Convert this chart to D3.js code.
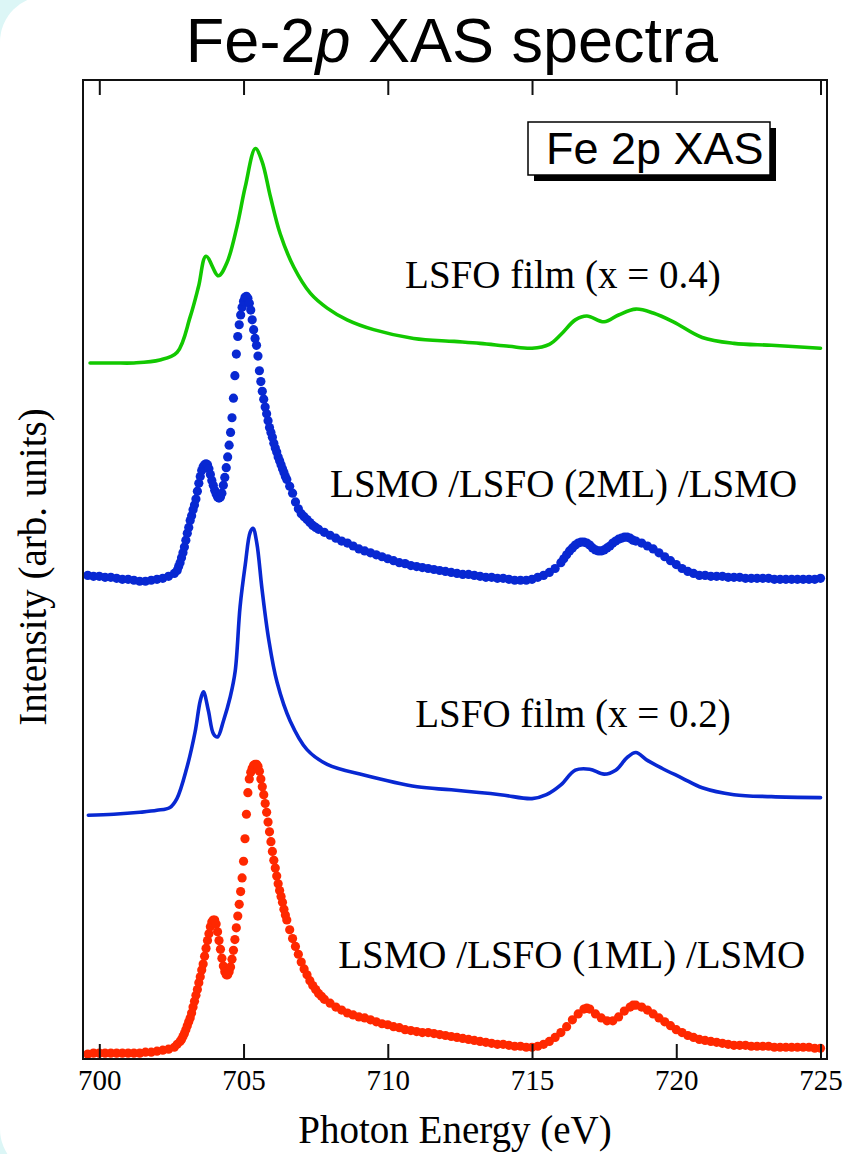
<!DOCTYPE html>
<html>
<head>
<meta charset="utf-8">
<script src="https://cdn.jsdelivr.net/npm/d3@7"></script>
<style>
  html, body { margin: 0; padding: 0; background: #ffffff; }
  svg { display: block; }
</style>
</head>
<body>
<script>
// Fe 2p X-ray absorption spectra, vertically offset for comparison.
// Each series: [photon energy (eV), intensity (arb. units, with offset)]

const xTicks = [700, 705, 710, 715, 720, 725];

const lsfo04 = [
  [699.68, 7.11], [700.5, 7.11], [701.2, 7.11], [702.1, 7.14], [702.7, 7.22], [703.15, 7.58],
  [703.44, 7.89], [703.7, 8.20], [704.13, 8.00], [704.42, 8.13], [704.77, 8.50], [705.06, 8.91],
  [705.41, 9.30], [705.64, 9.17], [705.93, 8.81], [706.27, 8.43], [706.74, 8.09], [707.32, 7.82],
  [707.9, 7.67], [708.59, 7.55], [709.51, 7.45], [710.9, 7.36], [712.3, 7.33], [713.2, 7.31],
  [714.2, 7.28], [715.0, 7.26], [715.6, 7.30], [716.0, 7.40], [716.5, 7.55], [716.9, 7.59],
  [717.5, 7.53], [718.0, 7.60], [718.6, 7.66], [719.2, 7.62], [719.9, 7.53], [720.9, 7.37],
  [722.0, 7.31], [723.3, 7.29], [725.0, 7.26]
];

const lsfo02 = [
  [699.62, 2.49], [700.5, 2.50], [701.41, 2.52], [702.0, 2.54], [702.45, 2.57], [702.69, 2.66],
  [703.03, 2.97], [703.32, 3.34], [703.5, 3.66], [703.61, 3.75], [703.78, 3.56], [703.96, 3.32],
  [704.1, 3.29], [704.3, 3.45], [704.54, 3.70], [704.71, 3.96], [704.88, 4.62], [705.06, 5.05],
  [705.23, 5.38], [705.33, 5.42], [705.46, 5.27], [705.64, 4.80], [705.87, 4.29], [706.16, 3.85],
  [706.62, 3.45], [707.2, 3.16], [707.9, 3.01], [709.17, 2.90], [711.02, 2.78], [712.2, 2.75],
  [713.9, 2.70], [715.0, 2.66], [715.5, 2.70], [716.0, 2.80], [716.5, 2.95], [717.0, 2.96],
  [717.5, 2.91], [717.9, 2.95], [718.3, 3.08], [718.6, 3.13], [719.0, 3.05], [719.5, 2.97],
  [720.2, 2.87], [720.9, 2.77], [722.0, 2.70], [723.3, 2.68], [725.0, 2.67]
];

const bilayer2ML = [
  [699.6, 4.94], [699.8, 4.93], [700.0, 4.93], [700.2, 4.92], [700.4, 4.92], [700.6, 4.91],
  [700.8, 4.90], [701.0, 4.90], [701.2, 4.89], [701.4, 4.88], [701.6, 4.88], [701.8, 4.89],
  [702.0, 4.90], [702.2, 4.91], [702.4, 4.93], [702.6, 4.96], [702.7, 4.99], [702.75, 5.03],
  [702.8, 5.07], [702.85, 5.12], [702.9, 5.17], [702.95, 5.23], [703.0, 5.30], [703.05, 5.37],
  [703.1, 5.43], [703.15, 5.50], [703.2, 5.55], [703.25, 5.61], [703.3, 5.66], [703.35, 5.72],
  [703.4, 5.80], [703.45, 5.88], [703.5, 5.95], [703.55, 6.01], [703.6, 6.05], [703.65, 6.07],
  [703.7, 6.08], [703.75, 6.07], [703.8, 6.03], [703.85, 5.97], [703.9, 5.91], [703.95, 5.86],
  [704.0, 5.81], [704.05, 5.77], [704.1, 5.74], [704.15, 5.73], [704.2, 5.74], [704.25, 5.78],
  [704.3, 5.86], [704.35, 5.94], [704.4, 6.04], [704.45, 6.15], [704.5, 6.27], [704.55, 6.40],
  [704.6, 6.55], [704.65, 6.75], [704.7, 6.98], [704.75, 7.20], [704.8, 7.38], [704.85, 7.50],
  [704.9, 7.60], [704.95, 7.68], [705.0, 7.74], [705.05, 7.78], [705.1, 7.79], [705.15, 7.77],
  [705.2, 7.72], [705.25, 7.65], [705.3, 7.55], [705.35, 7.45], [705.4, 7.36], [705.45, 7.29],
  [705.5, 7.18], [705.55, 7.03], [705.6, 6.92], [705.65, 6.82], [705.7, 6.74], [705.75, 6.66],
  [705.8, 6.59], [705.85, 6.52], [705.9, 6.45], [705.95, 6.40], [706.0, 6.35], [706.05, 6.29],
  [706.1, 6.24], [706.15, 6.20], [706.2, 6.15], [706.25, 6.11], [706.3, 6.07], [706.35, 6.03],
  [706.4, 5.99], [706.45, 5.95], [706.5, 5.92], [706.6, 5.85], [706.7, 5.78], [706.8, 5.69],
  [706.9, 5.62], [707.0, 5.57], [707.1, 5.54], [707.2, 5.51], [707.3, 5.48], [707.4, 5.45],
  [707.5, 5.43], [707.6, 5.41], [707.8, 5.38], [708.0, 5.35], [708.2, 5.32], [708.4, 5.29],
  [708.6, 5.27], [708.8, 5.24], [709.0, 5.21], [709.2, 5.19], [709.4, 5.17], [709.6, 5.15],
  [709.8, 5.13], [710.0, 5.11], [710.2, 5.09], [710.4, 5.07], [710.6, 5.06], [710.8, 5.04],
  [711.0, 5.03], [711.2, 5.02], [711.4, 5.01], [711.6, 5.00], [711.8, 4.99], [712.0, 4.98],
  [712.2, 4.97], [712.4, 4.96], [712.6, 4.95], [712.8, 4.95], [713.0, 4.94], [713.2, 4.93],
  [713.4, 4.92], [713.6, 4.92], [713.8, 4.91], [714.0, 4.91], [714.2, 4.90], [714.4, 4.89],
  [714.6, 4.89], [714.8, 4.89], [715.0, 4.90], [715.2, 4.92], [715.4, 4.94], [715.6, 4.97],
  [715.8, 5.01], [716.0, 5.07], [716.1, 5.11], [716.2, 5.15], [716.3, 5.19], [716.4, 5.22],
  [716.5, 5.25], [716.6, 5.27], [716.7, 5.28], [716.8, 5.28], [716.9, 5.27], [717.0, 5.25],
  [717.1, 5.22], [717.2, 5.20], [717.3, 5.19], [717.4, 5.19], [717.5, 5.20], [717.6, 5.22],
  [717.7, 5.24], [717.8, 5.27], [717.9, 5.29], [718.0, 5.31], [718.1, 5.32], [718.2, 5.33],
  [718.3, 5.33], [718.4, 5.32], [718.5, 5.30], [718.6, 5.29], [718.8, 5.27], [719.0, 5.24],
  [719.2, 5.21], [719.4, 5.17], [719.6, 5.13], [719.8, 5.09], [720.0, 5.05], [720.2, 5.01],
  [720.4, 4.98], [720.6, 4.96], [720.8, 4.94], [721.0, 4.94], [721.2, 4.93], [721.4, 4.93],
  [721.6, 4.93], [721.8, 4.92], [722.0, 4.92], [722.2, 4.92], [722.4, 4.91], [722.6, 4.91],
  [722.8, 4.91], [723.0, 4.91], [723.2, 4.91], [723.4, 4.90], [723.6, 4.90], [723.8, 4.90],
  [724.0, 4.90], [724.2, 4.90], [724.4, 4.90], [724.6, 4.90], [724.8, 4.90], [725.0, 4.91]
];

const bilayer1ML = [
  [699.6, 0.05], [699.8, 0.06], [700.0, 0.06], [700.2, 0.06], [700.4, 0.06], [700.6, 0.06],
  [700.8, 0.06], [701.0, 0.06], [701.2, 0.06], [701.4, 0.06], [701.6, 0.07], [701.8, 0.07],
  [702.0, 0.08], [702.2, 0.09], [702.4, 0.10], [702.6, 0.12], [702.7, 0.15], [702.8, 0.18],
  [702.85, 0.20], [702.9, 0.23], [702.95, 0.26], [703.0, 0.30], [703.05, 0.34], [703.1, 0.38],
  [703.15, 0.42], [703.2, 0.47], [703.25, 0.53], [703.3, 0.59], [703.35, 0.65], [703.4, 0.71],
  [703.45, 0.78], [703.5, 0.84], [703.55, 0.91], [703.6, 0.97], [703.65, 1.05], [703.7, 1.13],
  [703.75, 1.21], [703.8, 1.28], [703.85, 1.35], [703.9, 1.40], [703.95, 1.42], [704.0, 1.42],
  [704.05, 1.38], [704.1, 1.30], [704.15, 1.21], [704.2, 1.12], [704.25, 1.03], [704.3, 0.95],
  [704.35, 0.89], [704.4, 0.86], [704.45, 0.86], [704.5, 0.89], [704.55, 0.94], [704.6, 1.02],
  [704.65, 1.11], [704.7, 1.22], [704.75, 1.34], [704.8, 1.46], [704.85, 1.58], [704.9, 1.71],
  [704.95, 1.85], [705.0, 2.02], [705.05, 2.25], [705.1, 2.50], [705.15, 2.72], [705.2, 2.86],
  [705.25, 2.93], [705.3, 2.97], [705.35, 3.00], [705.4, 3.01], [705.45, 3.01], [705.5, 2.99],
  [705.55, 2.94], [705.6, 2.86], [705.65, 2.78], [705.7, 2.70], [705.75, 2.61], [705.8, 2.52],
  [705.85, 2.42], [705.9, 2.32], [705.95, 2.22], [706.0, 2.12], [706.05, 2.03], [706.1, 1.95],
  [706.15, 1.87], [706.2, 1.79], [706.25, 1.72], [706.3, 1.66], [706.35, 1.60], [706.4, 1.53],
  [706.45, 1.47], [706.5, 1.42], [706.6, 1.32], [706.7, 1.23], [706.8, 1.15], [706.9, 1.07],
  [707.0, 0.99], [707.1, 0.92], [707.2, 0.86], [707.3, 0.80], [707.4, 0.75], [707.5, 0.71],
  [707.6, 0.67], [707.7, 0.64], [707.8, 0.61], [708.0, 0.57], [708.2, 0.53], [708.4, 0.50],
  [708.6, 0.47], [708.8, 0.45], [709.0, 0.43], [709.2, 0.42], [709.4, 0.40], [709.6, 0.38],
  [709.8, 0.36], [710.0, 0.35], [710.2, 0.33], [710.4, 0.32], [710.6, 0.30], [710.8, 0.29],
  [711.0, 0.28], [711.2, 0.27], [711.4, 0.27], [711.6, 0.26], [711.8, 0.25], [712.0, 0.24],
  [712.2, 0.23], [712.4, 0.22], [712.6, 0.21], [712.8, 0.20], [713.0, 0.19], [713.2, 0.18],
  [713.4, 0.17], [713.6, 0.16], [713.8, 0.15], [714.0, 0.15], [714.2, 0.14], [714.4, 0.13],
  [714.6, 0.13], [714.8, 0.12], [715.0, 0.12], [715.2, 0.13], [715.4, 0.15], [715.6, 0.18],
  [715.8, 0.22], [716.0, 0.27], [716.2, 0.33], [716.4, 0.40], [716.6, 0.46], [716.8, 0.51],
  [716.9, 0.52], [717.0, 0.51], [717.2, 0.46], [717.4, 0.42], [717.6, 0.39], [717.8, 0.39],
  [718.0, 0.43], [718.2, 0.49], [718.4, 0.53], [718.5, 0.55], [718.6, 0.55], [718.8, 0.53],
  [719.0, 0.50], [719.2, 0.46], [719.4, 0.42], [719.6, 0.38], [719.8, 0.34], [720.0, 0.30],
  [720.2, 0.27], [720.4, 0.24], [720.6, 0.22], [720.8, 0.20], [721.0, 0.19], [721.2, 0.18],
  [721.4, 0.17], [721.6, 0.16], [721.8, 0.15], [722.0, 0.14], [722.2, 0.14], [722.4, 0.14],
  [722.6, 0.13], [722.8, 0.13], [723.0, 0.13], [723.2, 0.13], [723.4, 0.12], [723.6, 0.12],
  [723.8, 0.12], [724.0, 0.12], [724.2, 0.12], [724.4, 0.12], [724.6, 0.12], [724.8, 0.11],
  [725.0, 0.11]
];

// series labels: text, anchor energy, anchor intensity
const seriesLabels = [
  ["LSFO film (x = 0.4)", 710.6, 7.88],
  ["LSMO /LSFO (2ML) /LSMO", 708.0, 5.74],
  ["LSFO film (x = 0.2)", 710.95, 3.39],
  ["LSMO /LSFO (1ML) /LSMO", 708.28, 0.93]
];

const W = 845, H = 1154;
const margin = { top: 81, right: 18, bottom: 95, left: 83 };

const svg = d3.select("body").append("svg")
  .attr("width", W).attr("height", H);

// slide background with rounded white panel
svg.append("rect").attr("width", W).attr("height", H).attr("fill", "#dcf6f6");
svg.append("rect").attr("x", 0).attr("y", -4).attr("width", W + 60).attr("height", H + 25)
  .attr("rx", 46).attr("fill", "#ffffff");

const x = d3.scaleLinear().domain([699.435, 725.225]).range([margin.left, W - margin.right]);
const y = d3.scaleLinear().domain([0, 10]).range([H - margin.bottom, H - margin.bottom - 979]);

const plotTop = y.range()[1], plotBottom = y.range()[0];

// title
const title = svg.append("text")
  .attr("x", 452).attr("y", 62)
  .attr("text-anchor", "middle")
  .attr("font-family", "'Liberation Sans', Arial, Helvetica, sans-serif")
  .attr("font-size", 63)
  .attr("fill", "#000");
title.append("tspan").text("Fe-2");
title.append("tspan").attr("font-style", "italic").text("p");
title.append("tspan").text(" XAS spectra");

// spectra
const line = d3.line()
  .x(d => x(d[0])).y(d => y(d[1]))
  .curve(d3.curveCatmullRom.alpha(0.5));

const g = svg.append("g");

g.append("path").datum(lsfo04)
  .attr("d", line).attr("fill", "none")
  .attr("stroke", "#12c800").attr("stroke-width", 3.6)
  .attr("stroke-linejoin", "round").attr("stroke-linecap", "round");

g.append("path").datum(lsfo02)
  .attr("d", line).attr("fill", "none")
  .attr("stroke", "#0828d2").attr("stroke-width", 3.6)
  .attr("stroke-linejoin", "round").attr("stroke-linecap", "round");

g.selectAll("circle.ml2").data(bilayer2ML).join("circle")
  .attr("class", "ml2")
  .attr("cx", d => x(d[0])).attr("cy", d => y(d[1]))
  .attr("r", 4.6).attr("fill", "#0828d2");

g.selectAll("circle.ml1").data(bilayer1ML).join("circle")
  .attr("class", "ml1")
  .attr("cx", d => x(d[0])).attr("cy", d => y(d[1]))
  .attr("r", 4.6).attr("fill", "#ff2800");

// series labels
svg.selectAll("text.slabel").data(seriesLabels).join("text")
  .attr("class", "slabel")
  .attr("x", d => x(d[1])).attr("y", d => y(d[2]))
  .attr("font-family", "'Liberation Serif', 'Times New Roman', serif")
  .attr("font-size", 39)
  .attr("fill", "#000")
  .text(d => d[0]);

// legend box with drop shadow
const lg = svg.append("g").attr("transform", "translate(528,122)");
lg.append("rect").attr("x", 6).attr("y", 6).attr("width", 242).attr("height", 53).attr("fill", "#000");
lg.append("rect").attr("x", 0).attr("y", 0).attr("width", 242).attr("height", 53)
  .attr("fill", "#fff").attr("stroke", "#000").attr("stroke-width", 1.5);
lg.append("text").attr("x", 18).attr("y", 41.5)
  .attr("font-family", "'Liberation Sans', Arial, Helvetica, sans-serif")
  .attr("font-size", 45).attr("fill", "#000").text("Fe 2p XAS");

// frame
svg.append("rect")
  .attr("x", margin.left).attr("y", plotTop)
  .attr("width", W - margin.right - margin.left).attr("height", plotBottom - plotTop)
  .attr("fill", "none").attr("stroke", "#111").attr("stroke-width", 2);

// bottom axis with inward ticks
const xAxis = d3.axisBottom(x).tickValues(xTicks).tickSize(-15).tickPadding(10).tickFormat(d3.format("d"));
const ax = svg.append("g").attr("transform", `translate(0,${plotBottom})`).call(xAxis);
ax.select(".domain").remove();
ax.selectAll(".tick line").attr("stroke", "#111").attr("stroke-width", 2);
ax.selectAll(".tick text")
  .attr("font-family", "'Liberation Serif', 'Times New Roman', serif")
  .attr("font-size", 29).attr("fill", "#000");

// top axis ticks
const xTop = d3.axisTop(x).tickValues(xTicks).tickSize(-15).tickFormat("");
const at = svg.append("g").attr("transform", `translate(0,${plotTop})`).call(xTop);
at.select(".domain").remove();
at.selectAll(".tick line").attr("stroke", "#111").attr("stroke-width", 2);

// axis titles
svg.append("text")
  .attr("x", 455).attr("y", 1143)
  .attr("text-anchor", "middle")
  .attr("font-family", "'Liberation Serif', 'Times New Roman', serif")
  .attr("font-size", 39).attr("fill", "#000")
  .text("Photon Energy (eV)");

svg.append("text")
  .attr("transform", "translate(46,567) rotate(-90)")
  .attr("text-anchor", "middle")
  .attr("font-family", "'Liberation Serif', 'Times New Roman', serif")
  .attr("font-size", 39).attr("fill", "#000")
  .text("Intensity (arb. units)");
</script>
</body>
</html>
